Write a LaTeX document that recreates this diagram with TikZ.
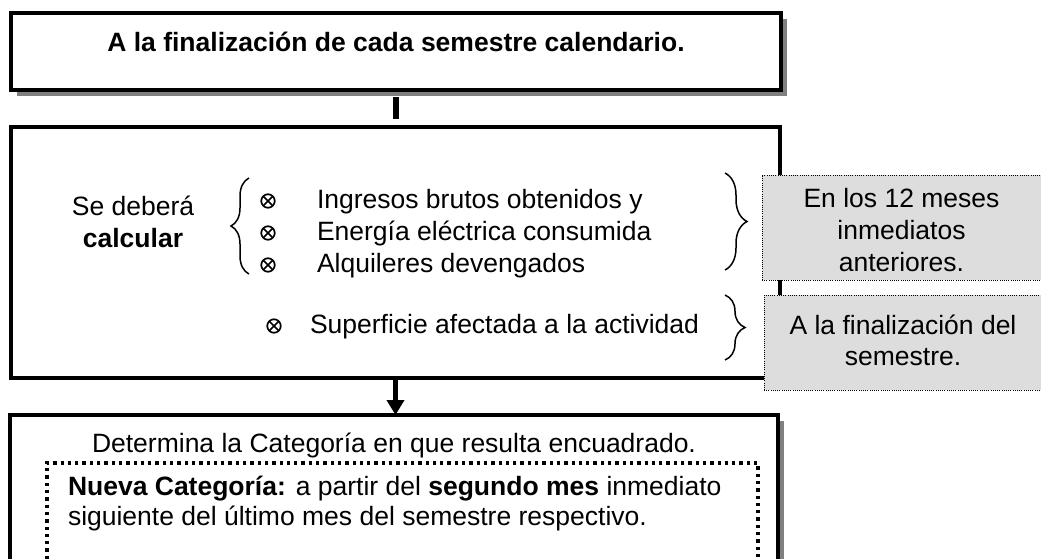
\documentclass[tikz,border=0pt]{standalone}
\usepackage{fontspec}
\setmainfont{Liberation Sans}
\usetikzlibrary{shadows,arrows.meta,decorations.pathreplacing}
\definecolor{shadowgray}{RGB}{128,128,128}
\definecolor{notefill}{RGB}{221,221,221}
\begin{document}
\begin{tikzpicture}[x=1pt,y=-1pt,
  every node/.style={inner sep=0pt,outer sep=0pt},
  txt/.style={font=\fontsize{26.5}{32}\selectfont},
  framebox/.style={draw,line width=4pt,fill=white},
  shadowed/.style={drop shadow={shadow xshift=6pt,shadow yshift=-6pt,fill=shadowgray,opacity=1}},
  notebox/.style={draw,line width=1pt,dash pattern=on 1pt off 1.2pt,fill=notefill},
  dotbox/.style={draw,line width=3.3pt,dash pattern=on 3.3pt off 4pt},
  conn/.style={line width=6pt},
  bracestyle/.style={line width=1.5pt,decorate},
  xbullet/.style={circle,draw,line width=1.7pt,minimum size=13.5pt,
    path picture={\draw[line width=1.7pt] (path picture bounding box.north west) -- (path picture bounding box.south east)
      (path picture bounding box.north east) -- (path picture bounding box.south west);}}
]
\useasboundingbox (0,0) rectangle (1041,558);
\clip (0,0) rectangle (1041,558);

% top box
\node[framebox,shadowed,minimum width=770pt,minimum height=77pt] (top) at (395.5,51.5) {};
\node[txt,font=\fontsize{26.5}{32}\selectfont\bfseries,anchor=base] (toptext) at (396,51) {A la finalización de cada semestre calendario.};

% middle box
\node[framebox,minimum width=769pt,minimum height=251pt] (mid) at (395.5,252.5) {};
\draw[conn,shorten <=7pt,shorten >=8pt] (top.south) -- (mid.north);

\node[txt,align=center] (calc) at (133,222) {Se deberá\\\textbf{calcular}};
\draw[bracestyle,decoration={brace,amplitude=18pt}] (249,274) -- (249,178);

\node[xbullet] (b1) at (268,201) {};
\node[xbullet] (b2) at (268,233) {};
\node[xbullet] (b3) at (268,265) {};
\node[xbullet] (b4) at (274,326) {};

\node[txt,align=left,anchor=west] (items) at (317,233.2) {Ingresos brutos obtenidos y\\Energía eléctrica consumida\\Alquileres devengados};
\node[txt,anchor=base west] (sup) at (310,333) {Superficie afectada a la actividad};

\draw[bracestyle,decoration={brace,amplitude=22pt}] (725,173) -- (725,270);
\draw[bracestyle,decoration={brace,amplitude=20pt}] (725,295) -- (725,360);

% grey notes
\node[notebox,minimum width=288pt,minimum height=105pt] (n1) at (906,227.5) {};
\node[txt,align=center] (n1text) at (901.5,230.4) {En los 12 meses\\inmediatos\\anteriores.};
\node[notebox,minimum width=286pt,minimum height=95pt] (n2) at (907,342.5) {};
\node[txt,font=\fontsize{26.5}{31}\selectfont,align=center] (n2text) at (903,340.8) {A la finalización del\\semestre.};

% bottom box
\node[framebox,shadowed,minimum width=768pt,minimum height=205pt] (bot) at (394,517.5) {};
\draw[conn,line width=5.5pt,-{Triangle[width=17pt,length=15pt]}] (mid.south) -- (mid.south |- bot.north);
\node[txt,anchor=base] (det) at (394,452) {Determina la Categoría en que resulta encuadrado.};
\node[dotbox,minimum width=711pt,minimum height=157pt] (inner) at (402.5,541.5) {};
\node[txt,font=\fontsize{26.5}{30.5}\selectfont,align=left,anchor=west] (nueva) at (68,503.5) {\textbf{Nueva Categoría:} a partir del \textbf{segundo mes} inmediato\\siguiente del último mes del semestre respectivo.};
\end{tikzpicture}
\end{document}
